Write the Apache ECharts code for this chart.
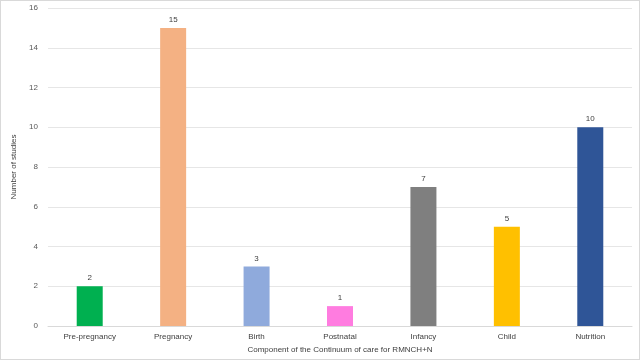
<!DOCTYPE html>
<html>
<head>
<meta charset="utf-8">
<script src="https://cdn.jsdelivr.net/npm/echarts@6/dist/echarts.min.js"></script>
<style>
  html, body { margin: 0; padding: 0; background: #fff; }
  #chart { width: 640px; height: 360px; box-sizing: border-box; border: 1px solid #d9d9d9; }
</style>
</head>
<body>
<div id="chart"></div>
<script>
// data
const categories = ['Pre-pregnancy', 'Pregnancy', 'Birth', 'Postnatal', 'Infancy', 'Child', 'Nutrition'];
const studies = [2, 15, 3, 1, 7, 5, 10];
const barColors = ['#00B050', '#F4B183', '#8FAADC', '#FF7CE0', '#7F7F7F', '#FFC000', '#2F5597'];

const font = 'Liberation Sans';
const chart = echarts.init(document.getElementById('chart'), null, { renderer: 'canvas' });

chart.setOption({
  animation: false,
  grid: { left: 47, right: 7, top: 7, bottom: 31 },
  xAxis: {
    type: 'category',
    data: categories,
    name: 'Component of the Continuum of care for RMNCH+N',
    nameLocation: 'middle',
    nameGap: 20,
    nameTextStyle: { fontFamily: font, fontSize: 8, color: '#404040' },
    axisLine: { lineStyle: { color: '#d9d9d9' } },
    axisTick: { show: false },
    axisLabel: { fontFamily: font, fontSize: 8, color: '#404040', margin: 7 }
  },
  yAxis: {
    type: 'value',
    min: 0,
    max: 16,
    interval: 2,
    name: 'Number of studies',
    nameLocation: 'middle',
    nameGap: 30,
    nameTextStyle: { fontFamily: font, fontSize: 8, color: '#404040' },
    axisLine: { show: false },
    axisTick: { show: false },
    axisLabel: { fontFamily: font, fontSize: 8, color: '#595959', margin: 10 },
    splitLine: { lineStyle: { color: '#e6e6e6' } }
  },
  series: [{
    type: 'bar',
    barWidth: 26,
    data: studies.map((v, i) => ({ value: v, itemStyle: { color: barColors[i] } })),
    label: {
      show: true,
      position: 'top',
      distance: 4,
      fontFamily: font,
      fontSize: 8,
      color: '#404040'
    }
  }]
});
</script>
</body>
</html>
